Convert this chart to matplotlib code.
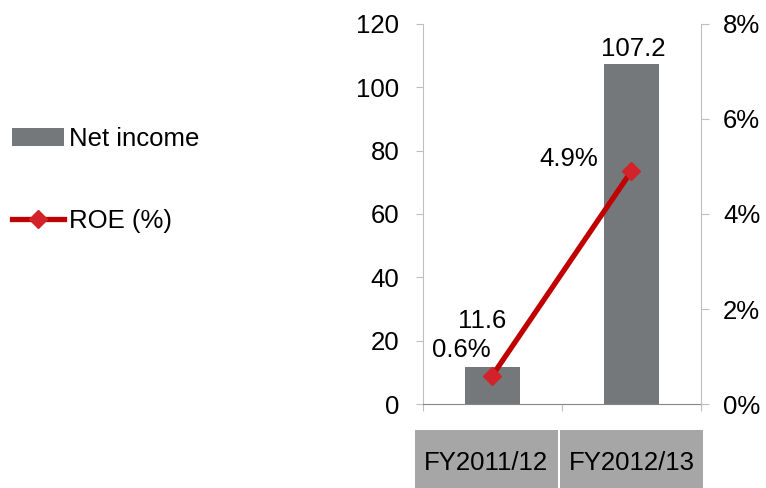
import matplotlib.pyplot as plt
from matplotlib.lines import Line2D
from matplotlib.patches import Patch, Rectangle
import matplotlib.transforms as mtransforms

plt.rcParams['font.family'] = ['Liberation Sans', 'DejaVu Sans']

years = ["FY2011/12", "FY2012/13"]
net_income = [11.6, 107.2]
roe = [0.6, 4.9]

bar_col = '#75787B'
line_col = '#C00000'
mark_col = '#D2232A'
fs = 18.5

fig = plt.figure(figsize=(7.66, 4.88), dpi=100)
ax = fig.add_axes([0.552, 0.172, 0.363, 0.779])
x = range(len(years))
ax.bar(x, net_income, width=0.4, color=bar_col, zorder=2)
ax.set_xlim(-0.5, 1.5)
ax.set_ylim(0, 120)
ax.set_yticks(range(0, 121, 20))
ax.set_xticks([-0.5, 0.5, 1.5])
ax.set_xticklabels([])

ax2 = ax.twinx()
ax2.plot(x, roe, color=line_col, lw=3.8, marker='D', ms=9.5,
         mfc=mark_col, mec=mark_col, zorder=3)
ax2.set_ylim(0, 8)
ax2.set_yticks(range(0, 9, 2))
ax2.set_yticklabels([f"{v}%" for v in range(0, 9, 2)])

for a in (ax, ax2):
    a.spines['top'].set_visible(False)
    a.spines['left'].set_color('#BFBFBF')
    a.spines['right'].set_color('#BFBFBF')
    a.spines['bottom'].set_color('#868686')
    a.patch.set_visible(False)
ax.spines['right'].set_visible(False)
ax2.spines['left'].set_visible(False)
ax2.spines['bottom'].set_visible(False)
ax.tick_params(axis='y', length=5, color='#BFBFBF', labelsize=fs, pad=12)
ax.tick_params(axis='x', length=5, color='#BFBFBF')
ax2.tick_params(axis='y', length=6, color='#BFBFBF', labelsize=fs, pad=10)

# value labels
bar_off = [(-7, 28), (1, 6)]
for i, v in enumerate(net_income):
    ax.annotate(f"{v}", (i, v), xytext=bar_off[i], textcoords='offset points',
                ha='center', va='baseline', fontsize=fs)
roe_off = [(-22, 13), (-45, 4)]
for i, v in enumerate(roe):
    ax2.annotate(f"{v}%", (i, v), xytext=roe_off[i], textcoords='offset points',
                 ha='center', va='baseline', fontsize=fs, zorder=4)

# category boxes under the axis
trans = mtransforms.blended_transform_factory(ax.transData, ax.transAxes)
box_edges = [(-0.557, 0.471), (0.486, 1.515)]
for (l, r), name in zip(box_edges, years):
    ax.add_patch(Rectangle((l, -0.221), r - l, 0.153, transform=trans,
                           facecolor='#A6A6A6', edgecolor='none', clip_on=False))
    ax.text((l + r) / 2, -0.155, name, transform=trans, ha='center',
            va='center', fontsize=fs)

handles = [Patch(facecolor=bar_col), Line2D([], [], color=line_col, lw=3.8,
           marker='D', ms=9.5, mfc=mark_col, mec=mark_col)]
fig.legend(handles, ["Net income", "ROE (%)"], loc='upper left',
           bbox_to_anchor=(0.016, 0.74), frameon=False, fontsize=fs,
           handlelength=2.0, handletextpad=0.2, labelspacing=2.25,
           borderpad=0, borderaxespad=0)

fig.savefig('out.png', dpi=100)
